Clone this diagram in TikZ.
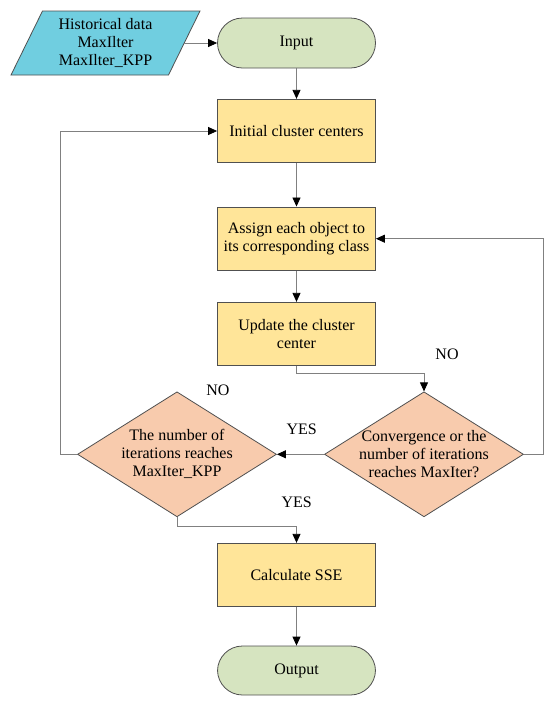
\documentclass[tikz,border=0pt]{standalone}
\usepackage{fontspec}
\setmainfont{Liberation Serif}
\usetikzlibrary{shapes.geometric,arrows.meta,calc}
\definecolor{dataC}{RGB}{112,206,224}
\definecolor{termC}{RGB}{214,228,192}
\definecolor{procC}{RGB}{255,229,153}
\definecolor{decC}{RGB}{248,203,173}
\definecolor{edgeC}{RGB}{80,80,80}
\definecolor{lineC}{RGB}{128,128,128}
\tikzset{
  txt/.style={font=\fontsize{16}{18}\selectfont, text=black, align=center, inner sep=0pt},
  base/.style={txt, draw=edgeC, line width=0.8pt},
  term/.style={base, fill=termC, rounded corners=25pt, minimum width=158pt, minimum height=50pt},
  proc/.style={base, fill=procC, minimum width=158pt, minimum height=63.5pt},
  dec/.style={draw=edgeC, line width=0.8pt, fill=decC, diamond, inner sep=0pt,
    minimum width=199pt, minimum height=125pt},
  conn/.style={draw=lineC, line width=0.8pt, -{Triangle[length=9pt,width=8pt,fill=black,color=black]}},
  lbl/.style={txt}
}
\begin{document}
\begin{tikzpicture}[x=1pt,y=-1pt]
\useasboundingbox (0,0) rectangle (550,705);
% data parallelogram
\draw[draw=edgeC, line width=0.8pt, fill=dataC] (11,75) -- (42.5,11) -- (200,11) -- (168.5,75) -- cycle;
\node[lbl] (data) at (105.5,43) {Historical data\\MaxIlter\\MaxIlter\_KPP};
\coordinate (dataR) at (184.25,43);
% nodes
\node[term] (input) at (296.5,43) {Input};
\node[proc] (init) at (296.5,131) {Initial cluster centers};
\node[proc] (assign) at (296.5,238.7) {Assign each object to\\its corresponding class};
\node[proc] (update) at (296.5,334) {Update the cluster\\center};
\node[dec, label={[txt]center:Convergence or the\\number of iterations\\reaches MaxIter?}] (d2) at (424,454.3) {};
\node[dec, label={[txt]center:The number of\\iterations reaches\\MaxIter\_KPP}] (d1) at (177,454.3) {};
\node[proc] (sse) at (296.5,575) {Calculate SSE};
\node[term, minimum height=49pt] (output) at (296.5,670.5) {Output};
% labels
\node[lbl] (no1) at (447,354) {NO};
\node[lbl] (no2) at (218,390) {NO};
\node[lbl] (yes1) at (301.7,429) {YES};
\node[lbl] (yes2) at (296.7,502.7) {YES};
% connectors
\draw[conn] (dataR) -- (input.west);
\draw[conn] (input) -- (init);
\draw[conn] (init) -- (assign);
\draw[conn] (assign) -- (update);
\draw[conn] (update.south) -- ++(0,7.5) -| (d2.north);
\draw[conn] (d2.east) -- ++(19.7,0) |- (assign.east);
\draw[conn] (d2.west) -- (d1.east);
\draw[conn] (d1.west) -- ++(-16.3,0) |- (init.west);
\draw[conn] (d1.south) -- ++(0,8.7) -| (sse.north);
\draw[conn] (sse) -- (output);
\end{tikzpicture}
\end{document}
